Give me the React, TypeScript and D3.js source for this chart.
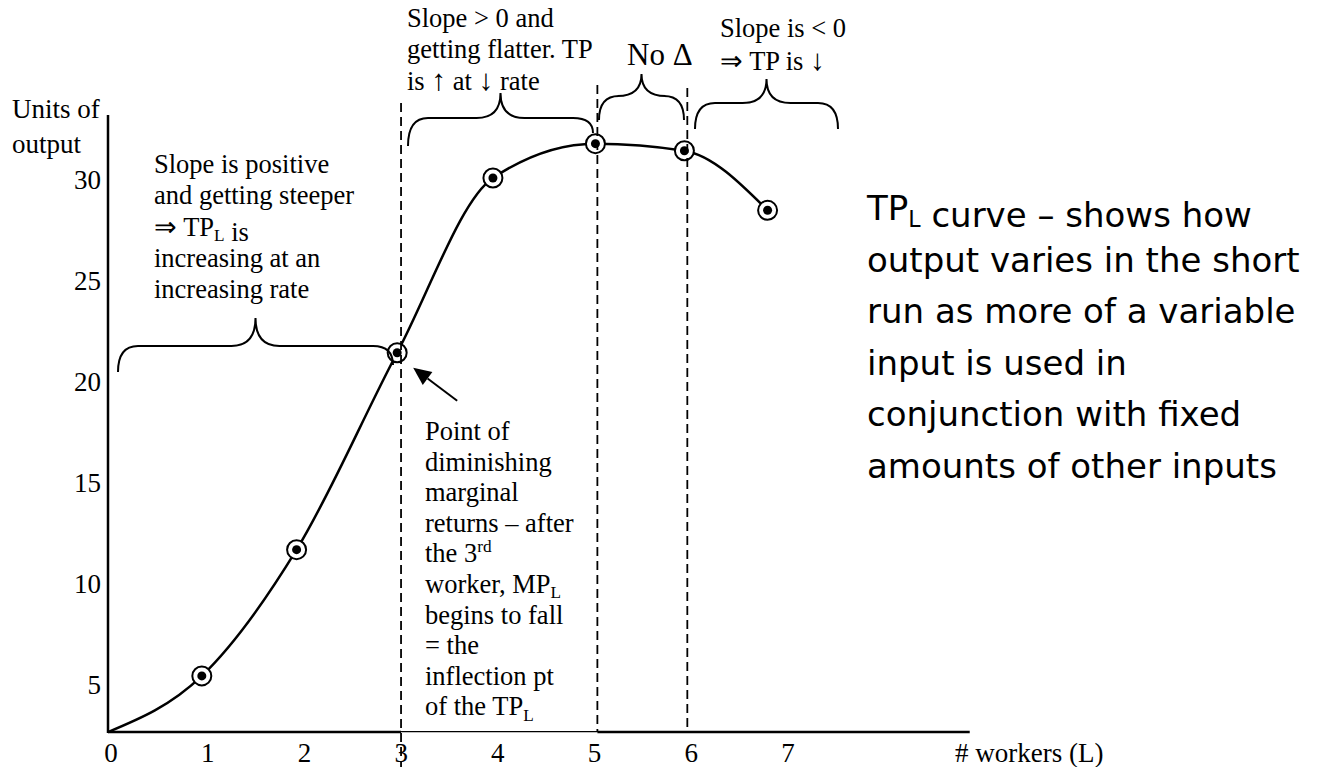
import * as d3 from 'd3'
import React from 'react'

// TP_L curve values (workers, units of output)
const workers = [0, 0.97, 1.95, 2.99, 3.98, 5.04, 5.96, 6.82]
const output = [2.67, 5.45, 11.7, 21.45, 30.1, 31.8, 31.45, 28.5]
// circled observations (skip the origin)
const markedIdx = [1, 2, 3, 4, 5, 6, 7]

const xTicks = [0, 1, 2, 3, 4, 5, 6, 7]
const yTicks = [5, 10, 15, 20, 25, 30]
// dashed dividers at the 3rd, 5th and 6th worker
const dividers = [3.03, 5.06, 5.99]

const W = 1327
const H = 767
const serif = "'Times New Roman', 'Liberation Serif', serif"
const comic = "'Comic Sans MS', 'DejaVu Sans', sans-serif"

type Seg = [string, ('sub' | 'sup' | 'big')?]

const Lines = ({ x, y0, lh, lines, size, family }: { x: number, y0: number, lh: number, lines: Seg[][], size: number, family: string }) => (
  <text fontFamily={ family } fontSize={ size } fill='#000'>
    { lines.map((segs, i) => (
      <tspan key={ i } x={ x } y={ y0 + i * lh }>
        { segs.map(([t, kind], j) => {
          if (!kind) return <tspan key={ j }>{ t }</tspan>
          if (kind === 'big') return <tspan key={ j } fontSize={ size * 1.12 }>{ t }</tspan>
          const shift = kind === 'sub' ? size * 0.2 : -size * 0.38
          return (
            <React.Fragment key={ j }>
              <tspan dy={ shift } fontSize={ size * 0.65 }>{ t }</tspan>
              <tspan dy={ -shift }>{ '' }</tspan>
            </React.Fragment>
          )
        }) }
      </tspan>
    )) }
  </text>
)

// horizontal curly brace opening downward
const bracePath = (x0: number, x1: number, yFlat: number, yEnd0: number, yEnd1: number, tipUp: number) => {
  const xm = (x0 + x1) / 2
  const r = 20
  const r2 = 24
  return `M${x0},${yEnd0} Q${x0},${yFlat} ${x0 + r},${yFlat} L${xm - r2},${yFlat} Q${xm},${yFlat} ${xm},${yFlat - tipUp}` +
    ` Q${xm},${yFlat} ${xm + r2},${yFlat} L${x1 - r},${yFlat} Q${x1},${yFlat} ${x1},${yEnd1}`
}

export default function App () {
  const x = d3.scaleLinear().domain([0, 7]).range([108, 785])
  const y = d3.scaleLinear().domain([0, 30]).range([786, 180])
  const floorY = y(output[0])
  const axisEnd = 8.91

  const pts: [number, number][] = workers.map((w, i) => [w, output[i]])
  const line = d3.line<[number, number]>()
    .x((d) => x(d[0]))
    .y((d) => y(d[1]))
    .curve(d3.curveMonotoneX)

  const p3 = pts[3]
  const tipX = x(p3[0]) + 16
  const tipY = y(p3[1]) + 15
  const tailX = tipX + 44
  const tailY = tipY + 33
  const ang = Math.atan2(tipY - tailY, tipX - tailX)
  const hl = 18
  const hw = 8
  const bx = tipX - hl * Math.cos(ang)
  const by = tipY - hl * Math.sin(ang)
  const head = `M${tipX},${tipY} L${bx + hw * Math.sin(ang)},${by - hw * Math.cos(ang)} L${bx - hw * Math.sin(ang)},${by + hw * Math.cos(ang)} Z`

  const dividerTop = [103, 85, 88]
  const dividerBottom = [H, floorY, floorY]

  return (
    <svg width={ W } height={ H } style={ { position: 'absolute', left: 0, top: 0, background: '#fff' } }>
      { /* axes */ }
      <line x1={ x(0) } x2={ x(0) } y1={ 115 } y2={ floorY + 1 } stroke='#000' strokeWidth={ 2.5 } />
      <line x1={ x(0) } x2={ x(dividers[0]) } y1={ floorY } y2={ floorY } stroke='#000' strokeWidth={ 2.5 } />
      <line x1={ x(dividers[0]) } x2={ x(dividers[1]) } y1={ floorY - 0.5 } y2={ floorY - 0.5 } stroke='#000' strokeWidth={ 1.3 } />
      <line x1={ x(dividers[1]) } x2={ x(axisEnd) } y1={ floorY } y2={ floorY } stroke='#000' strokeWidth={ 2.5 } />

      { yTicks.map((t) => (
        <text key={ t } x={ 101 } y={ y(t) + 9 } textAnchor='end' fontFamily={ serif } fontSize={ 27 }>{ t }</text>
      )) }
      { xTicks.map((t) => (
        <text key={ t } x={ x(t) + 3 } y={ 762 } textAnchor='middle' fontFamily={ serif } fontSize={ 27 }>{ t }</text>
      )) }
      <text x={ 12 } y={ 118 } fontFamily={ serif } fontSize={ 27 }>Units of</text>
      <text x={ 12 } y={ 153 } fontFamily={ serif } fontSize={ 27 }>output</text>
      <text x={ 955 } y={ 762 } fontFamily={ serif } fontSize={ 27 }># workers (L)</text>

      { /* TP_L curve */ }
      <path d={ line(pts) || '' } fill='none' stroke='#000' strokeWidth={ 2.5 } />

      { /* circled points */ }
      { markedIdx.map((i) => (
        <g key={ i } transform={ `translate(${x(workers[i])},${y(output[i])})` }>
          <circle r={ 9.5 } fill='#fff' stroke='#000' strokeWidth={ 2 } />
          <circle r={ 4.5 } fill='#000' />
        </g>
      )) }

      { /* dashed dividers */ }
      { dividers.map((d, i) => (
        <line key={ d } x1={ x(d) } x2={ x(d) } y1={ dividerTop[i] } y2={ dividerBottom[i] }
          stroke='#000' strokeWidth={ 1.8 } strokeDasharray='9 5' />
      )) }

      { /* braces */ }
      <g fill='none' stroke='#000' strokeWidth={ 2 }>
        <path d={ bracePath(118, 393, 346, 372, 365, 28) } />
        <path d={ bracePath(408, 593, 118, 146, 133, 25) } />
        <path d={ bracePath(599, 684, 96, 120, 120, 22) } />
        <path d={ bracePath(695, 838, 103, 129, 129, 24) } />
      </g>

      { /* arrow to the inflection point */ }
      <line x1={ tailX } y1={ tailY } x2={ bx } y2={ by } stroke='#000' strokeWidth={ 2 } />
      <path d={ head } fill='#000' />

      { /* annotations */ }
      <Lines x={ 154 } y0={ 173 } lh={ 31.3 } size={ 26.5 } family={ serif } lines={ [
        [['Slope is positive']],
        [['and getting steeper']],
        [['⇒ TP'], ['L', 'sub'], [' is']],
        [['increasing at an']],
        [['increasing rate']]
      ] } />
      <Lines x={ 407 } y0={ 27 } lh={ 31.3 } size={ 26.5 } family={ serif } lines={ [
        [['Slope > 0 and']],
        [['getting flatter. TP']],
        [['is '], ['↑', 'big'], [' at '], ['↓', 'big'], [' rate']]
      ] } />
      <text x={ 627 } y={ 65 } fontFamily={ serif } fontSize={ 31 }>No Δ</text>
      <Lines x={ 720 } y0={ 37 } lh={ 33 } size={ 26.5 } family={ serif } lines={ [
        [['Slope is < 0']],
        [['⇒ TP is '], ['↓', 'big']]
      ] } />
      <Lines x={ 425 } y0={ 440 } lh={ 30.6 } size={ 26.5 } family={ serif } lines={ [
        [['Point of']],
        [['diminishing']],
        [['marginal']],
        [['returns – after']],
        [['the 3'], ['rd', 'sup']],
        [['worker, MP'], ['L', 'sub']],
        [['begins to fall']],
        [['= the']],
        [['inflection pt']],
        [['of the TP'], ['L', 'sub']]
      ] } />
      <Lines x={ 867 } y0={ 220 } lh={ 51.6 } size={ 34 } family={ comic } lines={ [
        [['TP'], ['L', 'sub'], [' curve – shows how']],
        [['output varies in the short']],
        [['run as more of a variable']],
        [['input is used in']],
        [['conjunction with fixed']],
        [['amounts of other inputs']]
      ] } />
    </svg>
  )
}
